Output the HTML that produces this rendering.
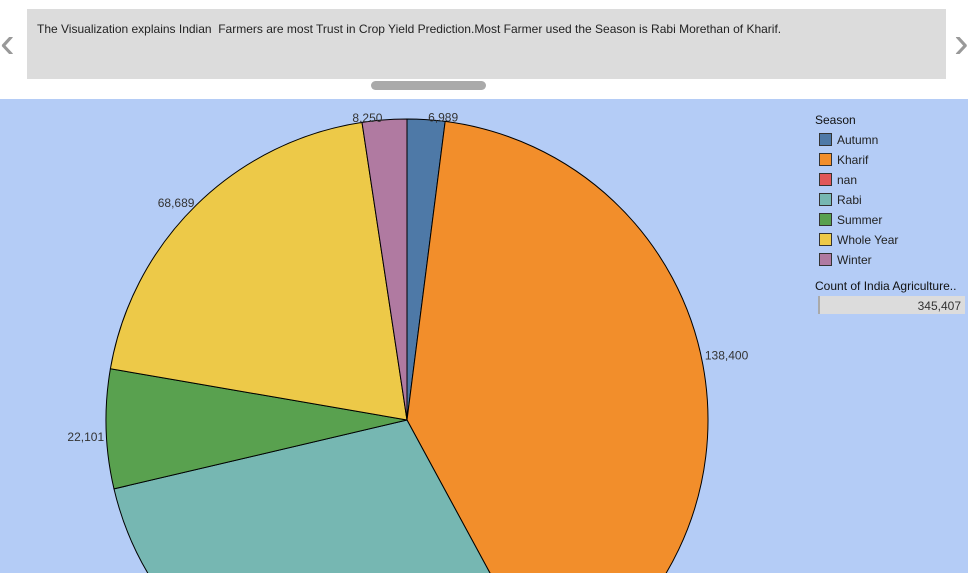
<!DOCTYPE html>
<html><head><meta charset="utf-8">
<style>
body{margin:0;width:968px;height:573px;overflow:hidden;background:#fff;font-family:"Liberation Sans",sans-serif;position:relative}
#cap{position:absolute;left:27px;top:9px;width:919px;height:70px;background:#dcdcdc;font-size:12px;color:#222}
#cap span{position:absolute;left:10px;top:13px}
#scroll{position:absolute;left:371px;top:81px;width:115px;height:9px;border-radius:5px;background:#aaa}
.arrow{position:absolute;top:18px;font-size:44px;line-height:50px;color:#999;font-weight:100}
#chart{position:absolute;left:0;top:99px;width:968px;height:474px;background:#b4ccf6;overflow:hidden}
#svg{display:block}
</style></head><body>
<div id="cap"><span>The Visualization explains Indian&nbsp; Farmers are most Trust in Crop Yield Prediction.Most Farmer used the Season is Rabi Morethan of Kharif.</span></div>
<div class="arrow" style="left:0">&lsaquo;</div>
<div class="arrow" style="left:954px">&rsaquo;</div>
<div id="scroll"></div>
<div id="chart">
<svg id="svg" width="968" height="474"></svg>
</div>
<script>
const categories=["Autumn","Kharif","nan","Rabi","Summer","Whole Year","Winter"];
const values=[6989,138400,0,100978,22101,68689,8250];
const colors=["#4e79a7","#f28e2b","#e15759","#76b7b2","#59a14f","#edc948","#b07aa1"];
const total=345407;
const svg=document.getElementById('svg');
const NS='http://www.w3.org/2000/svg';
const cx=407,cy=321,r=301;
const sum=values.reduce((a,b)=>a+b,0);
function pt(a,rr){return [cx+rr*Math.sin(a),cy-rr*Math.cos(a)];}
let acc=0;
values.forEach((v,i)=>{
  if(v<=0)return;
  const a0=acc/sum*2*Math.PI;acc+=v;const a1=acc/sum*2*Math.PI;
  const p0=pt(a0,r),p1=pt(a1,r);
  const p=document.createElementNS(NS,'path');
  p.setAttribute('d',`M${cx},${cy}L${p0[0]},${p0[1]}A${r},${r} 0 ${a1-a0>Math.PI?1:0} 1 ${p1[0]},${p1[1]}Z`);
  p.setAttribute('fill',colors[i]);p.setAttribute('stroke','#000');p.setAttribute('stroke-width','1');
  
  
  svg.appendChild(p);
  const am=(a0+a1)/2,pm=pt(am,r);
  const t=document.createElementNS(NS,'text');
  const right=Math.sin(am)>0;
  const dy=Math.abs(Math.sin(am))>0.95?(Math.cos(am)>0?-5:12):2;
  t.setAttribute('x',right?pm[0]+2:pm[0]-2);
  t.setAttribute('y',pm[1]+dy);
  t.setAttribute('text-anchor',right?'start':'end');
  t.setAttribute('font-size','12');t.setAttribute('fill','#333');
  t.textContent=v.toLocaleString('en-US');
  
  
  svg.appendChild(t);
});
const lt=document.createElementNS(NS,'text');
lt.setAttribute('x',815);lt.setAttribute('y',25);lt.setAttribute('font-size','12');lt.setAttribute('fill','#111');lt.textContent='Season';


svg.appendChild(lt);
categories.forEach((c,i)=>{
  const g=document.createElementNS(NS,'g');
  
  
  const y=35+i*20;
  g.innerHTML=`<rect x="819.5" y="${y-.5}" width="12" height="12" fill="${colors[i]}" stroke="#333"/><text x="837" y="${y+10}" font-size="12" fill="#222">${c}</text>`;
  svg.appendChild(g);
});
const ct=document.createElementNS(NS,'text');
ct.setAttribute('x',815);ct.setAttribute('y',191);ct.setAttribute('font-size','12');ct.setAttribute('fill','#111');ct.textContent='Count of India Agriculture..';


svg.appendChild(ct);
const cb=document.createElementNS(NS,'g');


cb.innerHTML=`<rect x="818" y="197" width="147" height="18" fill="#dcdcdc"/><rect x="818" y="197" width="2" height="18" fill="#aaa"/><text x="961" y="211" font-size="12" text-anchor="end" fill="#333">${total.toLocaleString('en-US')}</text>`;
svg.appendChild(cb);
</script>
</body></html>
